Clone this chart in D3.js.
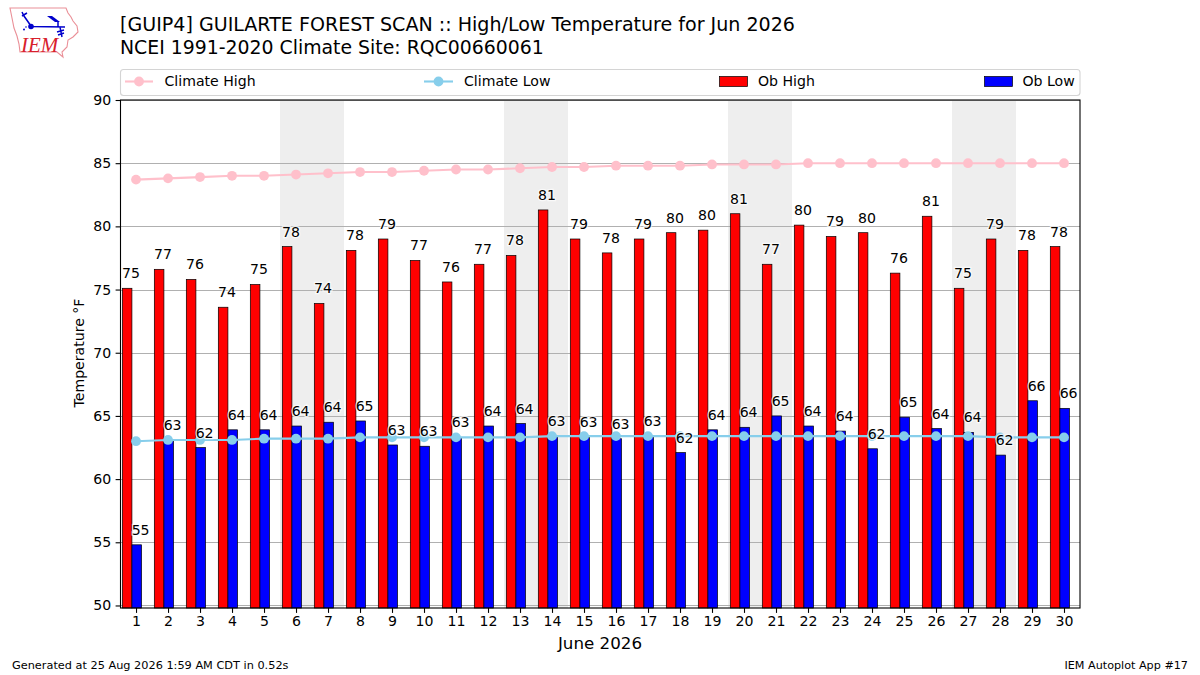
<!DOCTYPE html>
<html><head><meta charset="utf-8">
<script src="https://cdn.jsdelivr.net/npm/d3@7/dist/d3.min.js"></script>
<style>html,body{margin:0;padding:0;background:#fff}svg{display:block}text{font-family:"DejaVu Sans",sans-serif;fill:#000}</style>
</head><body><svg id="c" width="1200" height="675"></svg>
<script>
const days=d3.range(1,31);
const obHigh=[75.1,76.6,75.8,73.6,75.4,78.4,73.9,78.1,79,77.3,75.6,77,77.7,81.3,79,77.9,79,79.5,79.7,81,77,80.1,79.2,79.5,76.3,80.8,75.1,79,78.1,78.4];
const obLow=[54.8,63.1,62.5,63.9,63.9,64.2,64.5,64.6,62.7,62.6,63.3,64.2,64.4,63.4,63.3,63.2,63.4,62.1,63.9,64.1,65,64.2,63.8,62.4,64.9,64,63.7,61.9,66.2,65.6];
const highLabels=[75,77,76,74,75,78,74,78,79,77,76,77,78,81,79,78,79,80,80,81,77,80,79,80,76,81,75,79,78,78];
const lowLabels=[55,63,62,64,64,64,64,65,63,63,63,64,64,63,63,63,63,62,64,64,65,64,64,62,65,64,64,62,66,66];
const climHigh=[83.7,83.8,83.9,84,84,84.1,84.2,84.3,84.3,84.4,84.5,84.5,84.6,84.7,84.7,84.8,84.8,84.8,84.9,84.9,84.9,85,85,85,85,85,85,85,85,85];
const climLow=[63,63.1,63.1,63.1,63.2,63.2,63.2,63.3,63.3,63.3,63.3,63.3,63.3,63.4,63.4,63.4,63.4,63.4,63.4,63.4,63.4,63.4,63.4,63.4,63.4,63.4,63.4,63.3,63.3,63.3];
const weekends=[[5.5,7.5],[12.5,14.5],[19.5,21.5],[26.5,28.5]];
const yTicks=[50,55,60,65,70,75,80,85,90];
const title1="[GUIP4] GUILARTE FOREST SCAN :: High/Low Temperature for Jun 2026";
const title2="NCEI 1991-2020 Climate Site: RQC00660061";
const legendItems=["Climate High","Climate Low","Ob High","Ob Low"];

const L=120.5,R=1080,T=100,B=608;
const svg=d3.select("#c");
const x=d3.scaleLinear().domain([0.515,30.5]).range([L,R]);
const y=d3.scaleLinear().domain([49.8,90]).range([B,T]);
const w=x(0.3)-x(0);
const barShift=0.7;

svg.append("g").selectAll("rect").data(weekends).join("rect")
 .attr("x",d=>x(d[0])).attr("width",d=>x(d[1])-x(d[0])).attr("y",T).attr("height",B-T).attr("fill","#eeeeee");
svg.append("g").selectAll("line").data(yTicks).join("line")
 .attr("x1",L).attr("x2",R).attr("y1",d=>y(d)+.5|0).attr("y2",d=>y(d)+.5|0).attr("transform","translate(0,.5)")
 .attr("stroke","#b0b0b0").attr("stroke-width",1);
const bars=(data,off,col)=>svg.append("g").selectAll("rect").data(days).join("rect")
 .attr("x",d=>x(d+off)-w/2+barShift).attr("width",w).attr("y",(d,i)=>y(data[i])).attr("height",(d,i)=>B-y(data[i]))
 .attr("fill",col).attr("stroke","#000").attr("stroke-width",.7);
bars(obHigh,-.3,"#ff0000");
bars(obLow,0,"#0000ff");
const lineOf=(data,col)=>{
 const g=svg.append("g");
 g.append("path").attr("d",d3.line().x((d,i)=>x(days[i])).y(d=>y(d))(data)).attr("fill","none").attr("stroke",col).attr("stroke-width",2.1);
 g.selectAll("circle").data(data).join("circle").attr("cx",(d,i)=>x(days[i])).attr("cy",d=>y(d)).attr("r",4.9).attr("fill",col);
};
lineOf(climHigh,"#ffc0cb");
lineOf(climLow,"#87ceeb");
const labels=(data,vals,off)=>svg.append("g").selectAll("text").data(days).join("text")
 .attr("x",d=>x(d+off)-.2).attr("y",(d,i)=>y(data[i])-10).attr("text-anchor","middle").attr("font-size",14.1)
 .attr("stroke","#fff").attr("stroke-width",2.6).attr("stroke-opacity",.7).attr("paint-order","stroke").text((d,i)=>vals[i]);
labels(obHigh,highLabels,-.15);
labels(obLow,lowLabels,.15);

svg.append("rect").attr("x",L).attr("y",T).attr("width",R-L).attr("height",B-T).attr("fill","none").attr("stroke","#000").attr("stroke-width",1.1);
const ax=svg.append("g").attr("transform",`translate(0,${B})`).call(d3.axisBottom(x).tickValues(days).tickFormat(d3.format("d")).tickSize(4.9).tickPadding(3.5));
const ay=svg.append("g").attr("transform",`translate(${L},0)`).call(d3.axisLeft(y).tickValues(yTicks).tickSize(4.9).tickPadding(4.5));
[ax,ay].forEach(a=>{a.select(".domain").remove();a.selectAll("text").attr("font-size",14.1).attr("font-family","DejaVu Sans");a.selectAll("line").attr("stroke","#000").attr("stroke-width",1.1);});

svg.append("text").attr("x",120).attr("y",31).attr("font-size",19.07).text(title1);
svg.append("text").attr("x",120).attr("y",54).attr("font-size",18.87).text(title2);
svg.append("text").attr("transform","translate(84,353) rotate(-90)").attr("text-anchor","middle").attr("font-size",14.1).text("Temperature °F");
svg.append("text").attr("x",600).attr("y",649).attr("text-anchor","middle").attr("font-size",16.7).text("June 2026");
svg.append("text").attr("x",12).attr("y",669).attr("font-size",11.3).text("Generated at 25 Aug 2026 1:59 AM CDT in 0.52s");
svg.append("text").attr("x",1188).attr("y",669).attr("text-anchor","end").attr("font-size",11.2).text("IEM Autoplot App #17");

// legend
svg.append("rect").attr("x",120.5).attr("y",69.5).attr("width",959.5).attr("height",26).attr("rx",3).attr("fill","#fff").attr("stroke","#d4d4d4").attr("stroke-width",1.1);
const ly=81.5;
[[125,153,"#ffc0cb"],[424,453,"#87ceeb"]].forEach((p,i)=>{
 svg.append("line").attr("x1",p[0]).attr("x2",p[1]).attr("y1",ly).attr("y2",ly).attr("stroke",p[2]).attr("stroke-width",2.1);
 svg.append("circle").attr("cx",(p[0]+p[1])/2).attr("cy",ly).attr("r",4.9).attr("fill",p[2]);
});
[[719,"#ff0000"],[984,"#0000ff"]].forEach(p=>{
 svg.append("rect").attr("x",p[0]+.5).attr("y",76.5).attr("width",28).attr("height",10).attr("fill",p[1]).attr("stroke","#000").attr("stroke-width",.7);
});
[[164.5,0],[464,1],[758,2],[1022.5,3]].forEach(p=>{
 svg.append("text").attr("x",p[0]).attr("y",86).attr("font-size",14.1).text(legendItems[p[1]]);
});

// logo
const logo=svg.append("g");
logo.append("path").attr("d","M10,8 L66,8 L68,13 L71,17 L73,21 L77,26 L78,32 L73,37 L68,40 L67,47 L62,52 L63,57 L57,52 L20,52 L19,44 L17,36 L14,28 L12,18 Z")
 .attr("fill","#fff").attr("stroke","#ea8f97").attr("stroke-width",1.1);
logo.append("g").attr("stroke","#0000cc").attr("stroke-width",1.5).attr("fill","none").call(g=>{
 g.append("path").attr("d","M31,26.5 L65,27 M58,21 L58,27 M60,27 L62,37 M57,32 L64,30 M58,35 L64,33 M22,12 L24,16 L31,26 M22,16 L27,13");
});
logo.append("circle").attr("cx",31).attr("cy",26.5).attr("r",2.8).attr("fill","#0000cc");
logo.append("circle").attr("cx",24).attr("cy",29.5).attr("r",1).attr("fill","#0000cc");
logo.append("circle").attr("cx",26).attr("cy",27).attr("r",.8).attr("fill","#0000cc");
logo.append("path").attr("d","M47,16 L52,16 L60,22 L55,22 Z").attr("fill","#0000cc");
logo.append("text").attr("x",21).attr("y",52).attr("font-size",21).style("font-family","Liberation Serif").style("font-style","italic").style("fill","#d8202c").text("IEM");
</script></body></html>
